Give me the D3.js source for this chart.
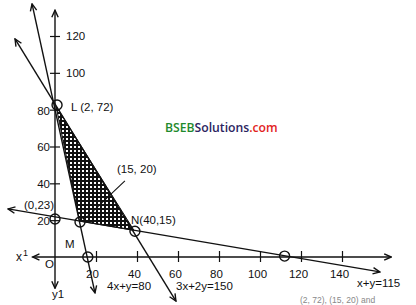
<!DOCTYPE html>
<html>
<head>
<meta charset="utf-8">
<script src="https://cdn.jsdelivr.net/npm/d3@7"></script>
<style>
	body { margin: 0; background: #fff; }
	text { font-family: "Liberation Sans", Arial, sans-serif; fill: #111; }
</style>
</head>
<body>
<svg id="chart"></svg>
<script>
// values (data units)
const xTicks = [20, 40, 60, 80, 100, 120, 140];
const yTicks = [20, 40, 60, 80, 100, 120];
const xAxisEnds = [-11, 164];
const yAxisEnds = [-17, 134];

const lineNames = ["4x+y=80", "3x+2y=150", "x+y=115"];
const lineStarts = [[-11.2, 137.4], [-19.5, 118.4], [-22.9, 26.1]];
const lineEnds = [[19.5, -19.5], [59.0, -23.9], [158.5, -8.1]];

const regionX = [0.5, 12, 38.5];
const regionY = [82, 19.5, 14.5];

const circleX = [1, 0, 12.2, 39, 16, 112];
const circleY = [82.5, 20.6, 19, 14, 0, 0.5];

const leader = [[34.1, 41.3], [15.1, 21.2]];

const w = 416, h = 305;

const x = d3.scaleLinear().domain([0, 140]).range([55, 342]);
const y = d3.scaleLinear().domain([0, 120]).range([257, 36]);

const svg = d3.select("#chart")
	.attr("width", w)
	.attr("height", h);

svg.append("rect").attr("width", w).attr("height", h).attr("fill", "#fff");

const defs = svg.append("defs");

defs.append("marker")
	.attr("id", "arrow")
	.attr("viewBox", "-9 -5 10 10")
	.attr("refX", 0)
	.attr("refY", 0)
	.attr("markerWidth", 10)
	.attr("markerHeight", 10)
	.attr("markerUnits", "userSpaceOnUse")
	.attr("orient", "auto-start-reverse")
	.append("path")
	.attr("d", "M-7,-3.2 L0,0 L-7,3.2")
	.attr("fill", "none")
	.attr("stroke", "#111")
	.attr("stroke-width", 1.4);

const hatch = defs.append("pattern")
	.attr("id", "hatch")
	.attr("patternUnits", "userSpaceOnUse")
	.attr("width", 4)
	.attr("height", 4);
hatch.append("rect").attr("width", 4).attr("height", 4).attr("fill", "#fff");
hatch.append("path")
	.attr("d", "M0,1 H4 M1,0 V4")
	.attr("stroke", "#111")
	.attr("stroke-width", 2);

// shaded feasible region
const region = regionX.map((d, i) => [x(d), y(regionY[i])]);
svg.append("path")
	.attr("d", d3.line()(region) + "Z")
	.attr("fill", "url(#hatch)")
	.attr("stroke", "#111")
	.attr("stroke-width", 1);

// axes lines with arrows
svg.append("line")
	.attr("x1", x(xAxisEnds[0])).attr("y1", y(0))
	.attr("x2", x(xAxisEnds[1])).attr("y2", y(0))
	.attr("stroke", "#111").attr("stroke-width", 1.4)
	.attr("marker-start", "url(#arrow)")
	.attr("marker-end", "url(#arrow)");

svg.append("line")
	.attr("x1", x(0)).attr("y1", y(yAxisEnds[0]))
	.attr("x2", x(0)).attr("y2", y(yAxisEnds[1]))
	.attr("stroke", "#111").attr("stroke-width", 1.4)
	.attr("marker-start", "url(#arrow)")
	.attr("marker-end", "url(#arrow)");

// ticks through d3 axes
const xAxis = svg.append("g")
	.attr("transform", `translate(0,${y(0)})`)
	.call(d3.axisBottom(x).tickValues(xTicks).tickSize(5).tickPadding(8));
xAxis.select(".domain").remove();
xAxis.selectAll(".tick line").attr("y1", -6).attr("y2", 5).attr("stroke", "#111").attr("stroke-width", 1.2);
xAxis.selectAll(".tick text")
	.attr("font-size", "11.5px")
	.attr("font-family", "Liberation Sans, Arial, sans-serif")
	.attr("fill", "#111")
	.attr("dx", d => d === 20 ? -4 : -3);

const yAxis = svg.append("g")
	.attr("transform", `translate(${x(0)},0)`)
	.call(d3.axisLeft(y).tickValues(yTicks).tickSize(5).tickPadding(4));
yAxis.select(".domain").remove();
yAxis.selectAll(".tick line").attr("x1", -5).attr("x2", 5).attr("stroke", "#111").attr("stroke-width", 1.2);
yAxis.selectAll(".tick text")
	.attr("font-size", "11.5px")
	.attr("font-family", "Liberation Sans, Arial, sans-serif")
	.attr("fill", "#111")
	.attr("text-anchor", d => d >= 100 ? "start" : "end")
	.attr("x", d => d >= 100 ? 11 : -5)
	.attr("dy", d => d >= 100 ? "0.32em" : "0.38em");

// constraint lines
lineNames.forEach((name, i) => {
	svg.append("line")
		.attr("x1", x(lineStarts[i][0])).attr("y1", y(lineStarts[i][1]))
		.attr("x2", x(lineEnds[i][0])).attr("y2", y(lineEnds[i][1]))
		.attr("stroke", "#111")
		.attr("stroke-width", 1.4)
		.attr("marker-start", "url(#arrow)")
		.attr("marker-end", "url(#arrow)");
});

// leader line for (15, 20)
svg.append("line")
	.attr("x1", x(leader[0][0])).attr("y1", y(leader[0][1]))
	.attr("x2", x(leader[1][0])).attr("y2", y(leader[1][1]))
	.attr("stroke", "#111")
	.attr("stroke-width", 1.1);

// open circles
svg.append("g").selectAll("circle")
	.data(circleX)
	.enter()
	.append("circle")
	.attr("cx", d => x(d))
	.attr("cy", (d, i) => y(circleY[i]))
	.attr("r", 5)
	.attr("fill", "none")
	.attr("stroke", "#111")
	.attr("stroke-width", 1.4);

// labels
const labels = [
	["L (2, 72)", 71, 111],
	["(15, 20)", 117, 173],
	["N(40,15)", 131, 224],
	["(0,23)", 24, 209],
	["M", 65, 248],
	["O", 45, 268],
	["y1", 52, 298],
	["4x+y=80", 107, 290],
	["3x+2y=150", 176, 290],
	["x+y=115", 357, 287]
];
svg.append("g").selectAll("text")
	.data(labels)
	.enter()
	.append("text")
	.text(d => d[0])
	.attr("x", d => d[1])
	.attr("y", d => d[2])
	.attr("font-size", "11.5px");

const xl = svg.append("text").attr("x", 16).attr("y", 261).attr("font-size", "12px");
xl.append("tspan").text("x");
xl.append("tspan").text("1").attr("font-size", "9px").attr("dy", -5).attr("dx", 1);

// watermark
const wm = svg.append("text")
	.attr("x", 165)
	.attr("y", 132)
	.attr("font-size", "12.2px")
	.attr("font-weight", 600)
	.style("font-family", "'Open Sans', 'Noto Sans', sans-serif");
wm.append("tspan").text("BSEB").style("fill", "#1f8a2c");
wm.append("tspan").text("Solutions").style("fill", "#2b2460");
wm.append("tspan").text(".com").style("fill", "#e2221c");

// faint line of text at the bottom edge
svg.append("text")
	.attr("x", 300)
	.attr("y", 303)
	.attr("font-size", "8.5px")
	.style("fill", "#888")
	.text("(2, 72), (15, 20) and");
</script>
</body>
</html>
